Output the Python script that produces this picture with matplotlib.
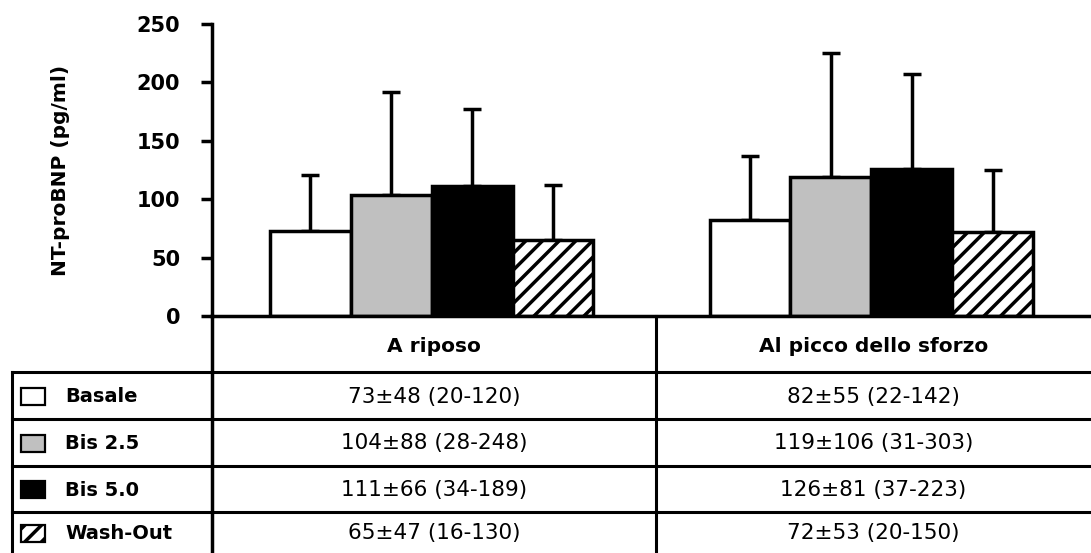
import numpy as np
import matplotlib
matplotlib.use('Agg')
import matplotlib.pyplot as plt

plt.rcParams['font.family'] = ['DejaVu Sans']
plt.rcParams['hatch.linewidth'] = 2.5

# data
groups = ['A riposo', 'Al picco dello sforzo']
series = ['Basale', 'Bis 2.5', 'Bis 5.0', 'Wash-Out']
means = [[73, 82], [104, 119], [111, 126], [65, 72]]
sds = [[48, 55], [88, 106], [66, 81], [47, 53]]
ranges = [['20-120', '22-142'], ['28-248', '31-303'], ['34-189', '37-223'], ['16-130', '20-150']]

colors = ['white', '#c0c0c0', 'black', 'white']
hatches = [None, None, None, '//']

W, H = 1091, 553
fig = plt.figure(figsize=(W / 100, H / 100), dpi=100)

# main bar axes (pixel layout)
x0, x1, ytop, ybase = 212, 1091, 24, 316
ax = fig.add_axes([x0 / W, 1 - ybase / H, (x1 - x0) / W, (ybase - ytop) / H])

x = np.arange(len(groups))
bw = 0.184
for i, s in enumerate(series):
    pos = x + (i - 1.5) * bw
    ax.bar(pos, means[i], bw, color=colors[i], edgecolor='black', linewidth=2.5,
           hatch=hatches[i], zorder=2)
    ax.errorbar(pos, means[i], yerr=[[0, 0], sds[i]], fmt='none', ecolor='black',
                elinewidth=2.5, capsize=6.5, capthick=2.5, zorder=1)

ax.set_xlim(-0.5, 1.5)
ax.set_ylim(0, 250)
ax.set_yticks([0, 50, 100, 150, 200, 250])
ax.tick_params(axis='y', direction='out', length=8, width=2.5, labelsize=15, pad=15)
for lbl in ax.get_yticklabels():
    lbl.set_fontweight('bold')
ax.set_xticks([])
ax.spines['top'].set_visible(False)
ax.spines['right'].set_visible(False)
ax.spines['left'].set_linewidth(2.5)
ax.spines['bottom'].set_linewidth(2.5)
ax.set_ylabel('NT-proBNP (pg/ml)', fontsize=14.5, fontweight='bold')
ax.yaxis.set_label_coords((70 - x0) / (x1 - x0), 0.5)

# table below in pixel coordinates
tb = fig.add_axes([0, 0, 1, 1])
tb.set_xlim(0, W)
tb.set_ylim(H, 0)
tb.axis('off')

left, colsplit = 12, 656
row_y = [372, 419, 466, 512, H]
lw = 2.2
tb.plot([x0, x0], [ybase, H], color='black', lw=2.5)
tb.plot([colsplit, colsplit], [ybase, H], color='black', lw=lw)
tb.plot([left, left], [row_y[0], H], color='black', lw=lw)
for yy in row_y[:-1]:
    tb.plot([left, W], [yy, yy], color='black', lw=lw)

col_cx = [(x0 + colsplit) / 2, (colsplit + W) / 2]
for j, g in enumerate(groups):
    tb.text(col_cx[j], (ybase + row_y[0]) / 2 + 2, g, ha='center', va='center',
            fontsize=14.5, fontweight='bold')

for i, s in enumerate(series):
    yc = (row_y[i] + row_y[i + 1]) / 2 + 1
    tb.add_patch(plt.Rectangle((21, yc - 9), 24, 17, facecolor=colors[i],
                               edgecolor='black', lw=1.6, hatch=hatches[i]))
    tb.text(65, yc, s, ha='left', va='center', fontsize=14, fontweight='bold')
    for j in range(len(groups)):
        tb.text(col_cx[j], yc, f'{means[i][j]}\u00b1{sds[i][j]} ({ranges[i][j]})',
                ha='center', va='center', fontsize=15.5)

fig.savefig('out.png', dpi=100)
